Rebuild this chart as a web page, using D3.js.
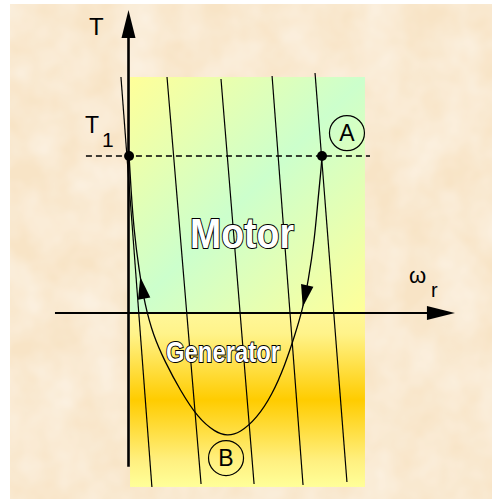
<!DOCTYPE html>
<html><head><meta charset="utf-8">
<script src="https://cdn.jsdelivr.net/npm/d3@7"></script>
<style>html,body{margin:0;padding:0;background:#fff;}svg{display:block;}</style>
</head><body>
<script>
// ---- data (ω_r normalised so that point A = 1, T normalised so that T1 = 1) ----
const axisLabels = { T: "T", T1: "T", T1sub: "1", w: "ω", wsub: "r" };
const regionLabels = ["Motor", "Generator"];
const pointLabels = ["A", "B"];
const T1 = 1;
const wAxisExtent = [-0.38, 1.687];
const tAxisExtent = [-0.98, 1.93];
const dashExtent = [-0.22, 1.248];
const regionW = [0.008, 1.222];
const regionT = [-1.108, 1.503];
// speed–torque characteristic lines: [ω at top, T top, ω at bottom, T bottom]
const charLines = [
  [-0.039, 1.503, 0.121, -1.108],
  [0.199, 1.503, 0.375, -1.089],
  [0.478, 1.490, 0.649, -1.089],
  [0.742, 1.510, 0.902, -1.096],
  [0.964, 1.529, 1.129, -1.076]
];
// trajectory from T1 at ω=0 down through B and up to A
const pathW = [0.003,0.013,0.028,0.054,0.085,0.127,0.189,0.266,0.359,0.447,0.509,0.576,0.664,0.742,0.809,0.860,0.899,0.930,0.961,0.979,0.995,1.000];
const pathT = [1.000,0.783,0.529,0.274,0.051,-0.140,-0.312,-0.490,-0.669,-0.758,-0.783,-0.764,-0.669,-0.522,-0.331,-0.140,0.019,0.210,0.465,0.720,0.911,1.000];
const dotsW = [0.003, 1.000];
const circleW = [1.129, 0.504];
const circleT = [1.146, -0.924];
// arrows on the trajectory: tip torque and branch
const arrowTipT = [0.229, 0.038];
const arrowBranch = ["left", "right"];

const W = 492, H = 499;
const x = d3.scaleLinear().domain([0, 1]).range([128.5, 322]);
const y = d3.scaleLinear().domain([0, 1]).range([313, 156]);

const svg = d3.select("body").append("svg").attr("width", W).attr("height", H);
const defs = svg.append("defs");

const f = defs.append("filter").attr("id", "mottle").attr("x", 0).attr("y", 0).attr("width", 1).attr("height", 1);
f.append("feTurbulence").attr("type", "fractalNoise").attr("baseFrequency", 0.025).attr("numOctaves", 3).attr("seed", 4);
f.append("feColorMatrix").attr("type", "matrix")
  .attr("values", "0 0 0 0 1  0 0 0 0 1  0 0 0 0 1  0.7 0 0 0 -0.15");

const gTop = defs.append("linearGradient").attr("id", "gTop").attr("x1", 0).attr("y1", 0).attr("x2", 1).attr("y2", 1);
[[0, "#ffff99"], [0.5, "#ccffcc"], [1, "#ffff99"]].forEach(s => gTop.append("stop").attr("offset", s[0]).attr("stop-color", s[1]));
const gBot = defs.append("linearGradient").attr("id", "gBot").attr("x1", 0).attr("y1", 0).attr("x2", 0).attr("y2", 1);
[[0, "#fff799"], [0.12, "#fff38a"], [0.5, "#ffcc00"], [0.85, "#fff080"], [1, "#ffff99"]].forEach(s => gBot.append("stop").attr("offset", s[0]).attr("stop-color", s[1]));

// background
svg.append("rect").attr("x", 10).attr("y", 4).attr("width", W - 10).attr("height", H - 4).attr("fill", "#f8e4c6");
svg.append("rect").attr("x", 10).attr("y", 4).attr("width", W - 10).attr("height", H - 4).attr("filter", "url(#mottle)");

// regions
svg.append("rect").attr("x", x(regionW[0])).attr("y", y(regionT[1]))
  .attr("width", x(regionW[1]) - x(regionW[0])).attr("height", y(0) - y(regionT[1])).attr("fill", "url(#gTop)");
svg.append("rect").attr("x", x(regionW[0])).attr("y", y(0))
  .attr("width", x(regionW[1]) - x(regionW[0])).attr("height", y(regionT[0]) - y(0)).attr("fill", "url(#gBot)");

// characteristic lines
svg.selectAll("line.char").data(charLines).join("line").attr("class", "char")
  .attr("x1", d => x(d[0])).attr("y1", d => y(d[1])).attr("x2", d => x(d[2])).attr("y2", d => y(d[3]))
  .attr("stroke", "#000").attr("stroke-width", 1.2);

// dashed T1 line
svg.append("line").attr("x1", x(dashExtent[0])).attr("x2", x(dashExtent[1])).attr("y1", y(T1)).attr("y2", y(T1))
  .attr("stroke", "#000").attr("stroke-width", 1.4).attr("stroke-dasharray", "6,4");

// axes
svg.append("line").attr("x1", x(0)).attr("x2", x(0)).attr("y1", y(tAxisExtent[0])).attr("y2", y(tAxisExtent[1]) + 20)
  .attr("stroke", "#000").attr("stroke-width", 2.6);
svg.append("path").attr("d", `M${x(0)},${y(tAxisExtent[1])} L${x(0) - 7},${y(tAxisExtent[1]) + 28} L${x(0) + 7},${y(tAxisExtent[1]) + 28}Z`).attr("fill", "#000");
svg.append("line").attr("x1", x(wAxisExtent[0])).attr("x2", x(wAxisExtent[1]) - 20).attr("y1", y(0)).attr("y2", y(0))
  .attr("stroke", "#000").attr("stroke-width", 2);
svg.append("path").attr("d", `M${x(wAxisExtent[1])},${y(0)} L${x(wAxisExtent[1]) - 28},${y(0) - 7} L${x(wAxisExtent[1]) - 28},${y(0) + 7}Z`).attr("fill", "#000");

// trajectory
const pts = pathW.map((w, i) => [x(w), y(pathT[i])]);
const traj = svg.append("path").attr("d", d3.line().curve(d3.curveBasis)(pts))
  .attr("fill", "none").attr("stroke", "#000").attr("stroke-width", 1.3);
const node = traj.node(), L = node.getTotalLength();
const samples = d3.range(0, L, 0.5).map(l => { const p = node.getPointAtLength(l); return { l, x: p.x, y: p.y }; });
const bottomL = samples.reduce((a, b) => (b.y > a.y ? b : a)).l;
arrowTipT.forEach((t, i) => {
  const ty = y(t);
  const cand = samples.filter(s => arrowBranch[i] === "left" ? s.l < bottomL : s.l > bottomL);
  const tip = cand.reduce((a, b) => Math.abs(b.y - ty) < Math.abs(a.y - ty) ? b : a);
  // both arrows point against path order (left branch goes up, right branch goes down)
  const back = node.getPointAtLength(Math.max(0, Math.min(L, tip.l + 22)));
  const dx = tip.x - back.x, dy = tip.y - back.y, len = Math.hypot(dx, dy);
  const ux = dx / len, uy = dy / len, nx = -uy, ny = ux;
  const bx = tip.x - ux * 22, by = tip.y - uy * 22;
  svg.append("path").attr("d", `M${tip.x},${tip.y} L${bx + nx * 6.3},${by + ny * 6.3} L${bx - nx * 6.3},${by - ny * 6.3}Z`).attr("fill", "#000");
});

// dots
svg.selectAll("circle.dot").data(dotsW).join("circle").attr("class", "dot")
  .attr("cx", d => x(d)).attr("cy", y(T1)).attr("r", 5).attr("fill", "#000");

// circled labels
pointLabels.forEach((lab, i) => {
  svg.append("circle").attr("cx", x(circleW[i])).attr("cy", y(circleT[i])).attr("r", 17.5)
    .attr("fill", "none").attr("stroke", "#000").attr("stroke-width", 1.2);
  svg.append("text").attr("x", x(circleW[i])).attr("y", y(circleT[i]) + 8).attr("text-anchor", "middle")
    .attr("font-family", "Liberation Sans, Arial, sans-serif").attr("font-size", 23).text(lab);
});

// axis labels
const ff = "Liberation Sans, Arial, sans-serif";
svg.append("text").attr("x", 89).attr("y", 35).attr("font-family", ff).attr("font-size", 24).text(axisLabels.T);
const t1 = svg.append("text").attr("font-family", ff);
t1.append("tspan").attr("x", 85).attr("y", 133).attr("font-size", 23).text(axisLabels.T1);
t1.append("tspan").attr("x", 102).attr("y", 147).attr("font-size", 21).text(axisLabels.T1sub);
const wl = svg.append("text").attr("font-family", ff);
wl.append("tspan").attr("x", 409).attr("y", 283).attr("font-size", 22).text(axisLabels.w);
wl.append("tspan").attr("x", 431).attr("y", 297).attr("font-size", 20).text(axisLabels.wsub);

// region labels
svg.append("text").attr("x", 190).attr("y", 248).attr("font-family", ff).attr("font-weight", "bold")
  .attr("font-size", 42).attr("textLength", 104).attr("lengthAdjust", "spacingAndGlyphs")
  .attr("fill", "#fff").attr("stroke", "#000").attr("stroke-width", 2).attr("paint-order", "stroke").text(regionLabels[0]);
svg.append("text").attr("x", 166).attr("y", 362).attr("font-family", ff).attr("font-weight", "bold")
  .attr("font-size", 30).attr("textLength", 114).attr("lengthAdjust", "spacingAndGlyphs")
  .attr("fill", "#fff").attr("stroke", "#000").attr("stroke-width", 2).attr("paint-order", "stroke").text(regionLabels[1]);
</script>
</body></html>
